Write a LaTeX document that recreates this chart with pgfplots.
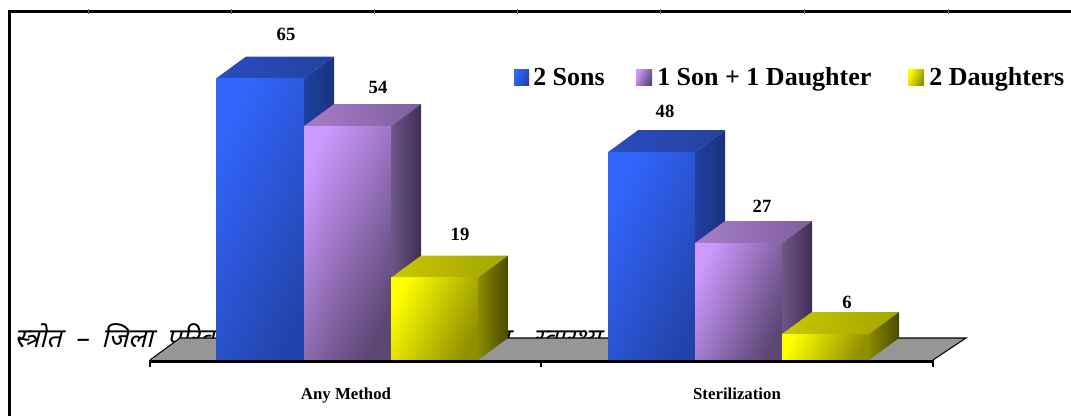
\documentclass[border=0pt]{standalone}
\usepackage{pgfplots}
\pgfplotsset{compat=1.18}
\usepackage{fontspec}
\setmainfont{Liberation Serif}
\newfontfamily\deva[Script=Devanagari,FakeSlant=0.25]{Noto Sans}
\definecolor{blueL}{HTML}{3366FF}\definecolor{blueD}{HTML}{2244AA}
\definecolor{blueT}{HTML}{2A4DBF}\definecolor{blueU}{HTML}{24429F}
\definecolor{blueS}{HTML}{1F3FA0}\definecolor{blueR}{HTML}{1A3380}
\definecolor{purL}{HTML}{CC99FF}\definecolor{purD}{HTML}{5C4673}
\definecolor{purT}{HTML}{A87CC8}\definecolor{purU}{HTML}{7E5FA0}
\definecolor{purS}{HTML}{6E5688}\definecolor{purR}{HTML}{3E2F55}
\definecolor{yelL}{HTML}{FFFF00}\definecolor{yelD}{HTML}{8F8F00}
\definecolor{yelT}{HTML}{C8C800}\definecolor{yelU}{HTML}{A4A400}
\definecolor{yelS}{HTML}{8A8A00}\definecolor{yelR}{HTML}{4A4A00}
\pgfplotsset{
 front/.style n args={2}{draw=none,forget plot,left color=#1,right color=#2,shading angle=65},
 face/.style n args={2}{draw=none,forget plot,left color=#1,right color=#2},
}
\begin{document}
\begin{tikzpicture}
\useasboundingbox (0,0) rectangle (803.25pt,312pt);
\begin{axis}[
 at={(0,0)},anchor=south west,
 scale only axis,width=803.25pt,height=312pt,
 xmin=0,xmax=1071,ymin=-12.93,ymax=83.14,
 axis lines=none,clip=true,
]
% frame
\addplot[black,line width=2.2pt,forget plot] coordinates {(9.5,-13)(9.5,80.5)(1071,80.5)};
\addplot[only marks,mark=|,mark size=1.6pt,black!60,mark options={line width=0.4pt},forget plot] coordinates {(88,80.5)(231,80.5)(374,80.5)(517,80.5)(660,80.5)(804,80.5)(948,80.5)};
% source line behind the floor
\node[anchor=base west,font=\deva\fontsize{20pt}{20pt}\selectfont,inner sep=0pt] at (axis cs:14,3)
 {स्त्रोत\hspace{10pt}–\hspace{10pt}जिला\hspace{10pt}परिवार कल्याण अधिकारी एवं\hspace{4pt} जिला\hspace{12pt} स्वास्थ्य};
% floor
\addplot[fill=black!41,draw=none,forget plot] coordinates {(150,0)(180,5.08)(966,5.08)(933,0)} --cycle;
\addplot[black,line width=0.8pt,forget plot] coordinates {(150,0)(180,5.08)(966,5.08)(933,0)};
% Any Method
\addplot[face={blueT}{blueU}] coordinates {(216,65)(304,65)(334,70.08)(246,70.08)} --cycle;
\addplot[face={blueS}{blueR}] coordinates {(304,0)(334,5.08)(334,70.08)(304,65)} --cycle;
\addplot[front={blueL}{blueD}] coordinates {(216,0)(304,0)(304,65)(216,65)} --cycle;
\addplot[face={purT}{purU}] coordinates {(304,54)(391,54)(421,59.08)(334,59.08)} --cycle;
\addplot[face={purS}{purR}] coordinates {(391,0)(421,5.08)(421,59.08)(391,54)} --cycle;
\addplot[front={purL}{purD}] coordinates {(304,0)(391,0)(391,54)(304,54)} --cycle;
\addplot[face={yelT}{yelU}] coordinates {(391,19)(478,19)(508,24.08)(421,24.08)} --cycle;
\addplot[face={yelS}{yelR}] coordinates {(478,0)(508,5.08)(508,24.08)(478,19)} --cycle;
\addplot[front={yelL}{yelD}] coordinates {(391,0)(478,0)(478,19)(391,19)} --cycle;
% Sterilization
\addplot[face={blueT}{blueU}] coordinates {(608,48)(695,48)(725,53.08)(638,53.08)} --cycle;
\addplot[face={blueS}{blueR}] coordinates {(695,0)(725,5.08)(725,53.08)(695,48)} --cycle;
\addplot[front={blueL}{blueD}] coordinates {(608,0)(695,0)(695,48)(608,48)} --cycle;
\addplot[face={purT}{purU}] coordinates {(695,27)(782,27)(812,32.08)(725,32.08)} --cycle;
\addplot[face={purS}{purR}] coordinates {(782,0)(812,5.08)(812,32.08)(782,27)} --cycle;
\addplot[front={purL}{purD}] coordinates {(695,0)(782,0)(782,27)(695,27)} --cycle;
\addplot[face={yelT}{yelU}] coordinates {(782,6)(869,6)(899,11.08)(812,11.08)} --cycle;
\addplot[face={yelS}{yelR}] coordinates {(869,0)(899,5.08)(899,11.08)(869,6)} --cycle;
\addplot[front={yelL}{yelD}] coordinates {(782,0)(869,0)(869,6)(782,6)} --cycle;
% base line and ticks over the bar feet
\addplot[black,line width=1.8pt,forget plot] coordinates {(150,-1.6)(150,-0.3)(933,-0.3)(933,-1.6)};
\addplot[black,line width=1.2pt,forget plot] coordinates {(541,-0.3)(541,-1.6)};
% value labels
\node[font=\bfseries\fontsize{14pt}{14pt}\selectfont] at (axis cs:286,75.3) {65};
\node[font=\bfseries\fontsize{14pt}{14pt}\selectfont] at (axis cs:378,63.0) {54};
\node[font=\bfseries\fontsize{14pt}{14pt}\selectfont] at (axis cs:460,28.9) {19};
\node[font=\bfseries\fontsize{14pt}{14pt}\selectfont] at (axis cs:665,57.3) {48};
\node[font=\bfseries\fontsize{14pt}{14pt}\selectfont] at (axis cs:762,35.6) {27};
\node[font=\bfseries\fontsize{14pt}{14pt}\selectfont] at (axis cs:847,13.4) {6};
% categories
\node[anchor=base,font=\bfseries\fontsize{12.6pt}{12.6pt}\selectfont] at (axis cs:346,-9.2) {Any Method};
\node[anchor=base,font=\bfseries\fontsize{12.6pt}{12.6pt}\selectfont] at (axis cs:737,-9.2) {Sterilization};
% legend
\addplot[front={blueL}{blueD}] coordinates {(514,63.5)(529,63.5)(529,67)(514,67)} --cycle;
\addplot[front={purL}{purD}] coordinates {(636,63.5)(652,63.5)(652,67)(636,67)} --cycle;
\addplot[front={yelL}{yelD}] coordinates {(908,63.5)(924,63.5)(924,67)(908,67)} --cycle;
\node[anchor=base west,inner sep=0pt,font=\bfseries\fontsize{19.5pt}{19.5pt}\selectfont] at (axis cs:533,63.3) {2 Sons};
\node[anchor=base west,inner sep=0pt,font=\bfseries\fontsize{19.5pt}{19.5pt}\selectfont] at (axis cs:657,63.3) {1 Son + 1 Daughter};
\node[anchor=base west,inner sep=0pt,font=\bfseries\fontsize{19.5pt}{19.5pt}\selectfont] at (axis cs:929,63.3) {2 Daughters};
\end{axis}
\end{tikzpicture}
\end{document}
